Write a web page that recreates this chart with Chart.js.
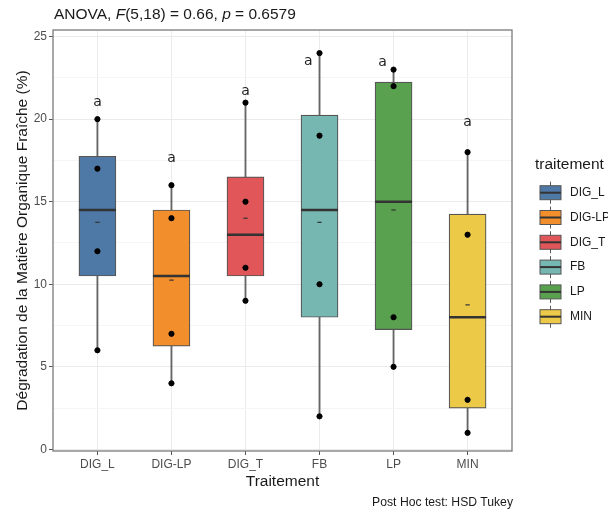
<!DOCTYPE html>
<html>
<head>
<meta charset="utf-8">
<script src="https://cdn.jsdelivr.net/npm/chart.js@4.4.0/dist/chart.umd.min.js"></script>
<style>
  body { margin: 0; background: #fff; font-family: "Liberation Sans", Arial, sans-serif; }
  #wrap { position: relative; width: 608px; height: 513px; }
  #title { position: absolute; left: 54px; top: 5px; font-size: 15.5px; color: #1a1a1a; white-space: nowrap; }
  #caption { position: absolute; right: 95px; top: 495px; font-size: 12.2px; color: #1a1a1a; white-space: nowrap; }
</style>
</head>
<body>
<div id="wrap">
  <canvas id="chart" width="608" height="513"></canvas>
  <div id="title">ANOVA, <i>F</i>(5,18) = 0.66, <i>p</i> = 0.6579</div>
  <div id="caption">Post Hoc test: HSD Tukey</div>
</div>
<script>
// Data
const categories = ['DIG_L', 'DIG-LP', 'DIG_T', 'FB', 'LP', 'MIN'];
const q1 = [10.5, 6.25, 10.5, 8, 7.25, 2.5];
const q3 = [17.75, 14.5, 16.5, 20.25, 22.25, 14.25];
const medians = [14.5, 10.5, 13, 14.5, 15, 8];
const means = [13.75, 10.25, 14, 13.75, 14.5, 8.75];
const whiskerLow = [6, 4, 9, 2, 5, 1];
const whiskerHigh = [20, 16, 21, 24, 23, 18];
const observations = [
    [6, 12, 17, 20],
    [4, 7, 14, 16],
    [9, 11, 15, 21],
    [2, 10, 19, 24],
    [5, 8, 22, 23],
    [1, 3, 13, 18]
];
const letters = ['a', 'a', 'a', 'a', 'a', 'a'];
const letterX = [1, 2, 3, 3.85, 4.85, 6];
const letterY = [21, 17.6, 21.7, 23.5, 23.45, 19.8];
const yTicks = [0, 2.5, 5, 7.5, 10, 12.5, 15, 17.5, 20, 22.5, 25];
const fills = ['#4E79A7', '#F28E2B', '#E15759', '#76B7B2', '#59A14F', '#EDC948'];

const xIdx = categories.map((c, i) => i + 1);

const obsPoints = [];
observations.forEach((vals, i) => vals.forEach(v => obsPoints.push({ x: i + 1, y: v })));

// Panel border, letters and the legend
const extras = {
    id: 'extras',
    afterDatasetsDraw(chart) {
        const { ctx, chartArea, scales } = chart;
        ctx.save();
        ctx.strokeStyle = '#7a7a7a';
        ctx.lineWidth = 1.3;
        ctx.strokeRect(chartArea.left, chartArea.top, chartArea.right - chartArea.left, chartArea.bottom - chartArea.top);

        ctx.fillStyle = '#222';
        ctx.font = '14px "DejaVu Sans", sans-serif';
        ctx.textAlign = 'center';
        ctx.textBaseline = 'middle';
        letters.forEach((l, i) => {
            ctx.fillText(l, scales.x.getPixelForValue(letterX[i]), scales.y.getPixelForValue(letterY[i]));
        });

        // legend
        ctx.textAlign = 'left';
        ctx.font = '15.5px "Liberation Sans", Arial, sans-serif';
        ctx.fillStyle = '#1a1a1a';
        ctx.fillText('traitement', 535, 165);
        ctx.font = '12px "Liberation Sans", Arial, sans-serif';
        categories.forEach((c, i) => {
            const cy = 192.7 + i * 24.8;
            const kx = 540, kw = 21;
            ctx.strokeStyle = '#555';
            ctx.lineWidth = 1;
            ctx.beginPath();
            ctx.moveTo(kx + kw / 2, cy - 11);
            ctx.lineTo(kx + kw / 2, cy + 11);
            ctx.stroke();
            ctx.fillStyle = fills[i];
            ctx.fillRect(kx, cy - 7, kw, 14);
            ctx.strokeRect(kx, cy - 7, kw, 14);
            ctx.strokeStyle = '#333';
            ctx.lineWidth = 2;
            ctx.beginPath();
            ctx.moveTo(kx, cy);
            ctx.lineTo(kx + kw, cy);
            ctx.stroke();
            ctx.fillStyle = '#1a1a1a';
            ctx.fillText(c, 570, cy);
        });
        ctx.restore();
    }
};

new Chart(document.getElementById('chart').getContext('2d'), {
    type: 'bar',
    data: {
        datasets: [
            {
                type: 'scatter',
                data: obsPoints,
                pointRadius: 2.6,
                pointBackgroundColor: '#000',
                pointBorderColor: '#000',
                order: 1
            },
            {
                type: 'scatter',
                data: xIdx.map((x, i) => ({ x: x, y: means[i] })),
                pointStyle: 'line',
                pointRadius: 2.2,
                pointBorderWidth: 1.2,
                pointBorderColor: '#333',
                order: 2
            },
            {
                type: 'scatter',
                data: xIdx.map((x, i) => ({ x: x, y: medians[i] })),
                pointStyle: 'line',
                pointRadius: 18.5,
                pointBorderWidth: 2.6,
                pointBorderColor: '#333',
                order: 3
            },
            {
                type: 'bar',
                data: xIdx.map((x, i) => ({ x: x, y: [q1[i], q3[i]] })),
                backgroundColor: fills,
                borderColor: '#555',
                borderWidth: 1.2,
                borderSkipped: false,
                barThickness: 37,
                grouped: false,
                order: 4
            },
            {
                type: 'bar',
                data: xIdx.map((x, i) => ({ x: x, y: [whiskerLow[i], whiskerHigh[i]] })),
                backgroundColor: '#666',
                borderWidth: 0,
                barThickness: 1.2,
                grouped: false,
                order: 5
            }
        ]
    },
    options: {
        responsive: false,
        animation: false,
        layout: { padding: { left: 0, right: 96, top: 30, bottom: 22 } },
        plugins: { legend: { display: false }, tooltip: { enabled: false } },
        scales: {
            x: {
                type: 'linear',
                min: 0.4,
                max: 6.6,
                offset: false,
                afterBuildTicks: s => { s.ticks = xIdx.map(v => ({ value: v })); },
                afterFit: s => { s.height = 40; },
                ticks: {
                    autoSkip: false,
                    maxRotation: 0,
                    padding: 2,
                    color: '#4d4d4d',
                    font: { family: '"Liberation Sans", Arial, sans-serif', size: 12 },
                    callback: v => categories[v - 1]
                },
                grid: { offset: false, color: '#ebebeb', tickColor: '#555', tickLength: 4 },
                border: { display: false },
                title: {
                    display: true,
                    text: 'Traitement',
                    color: '#1a1a1a',
                    font: { family: '"Liberation Sans", Arial, sans-serif', size: 15.5 },
                    padding: { top: 0, bottom: 0 }
                }
            },
            y: {
                min: -0.1,
                max: 25.4,
                afterBuildTicks: s => { s.ticks = yTicks.map(v => ({ value: v })); },
                afterFit: s => { s.width = 53; },
                ticks: {
                    padding: 2,
                    color: '#4d4d4d',
                    font: { family: '"Liberation Sans", Arial, sans-serif', size: 12 },
                    callback: v => (v % 5 === 0 ? v : '')
                },
                grid: {
                    color: c => (c.tick && c.tick.value % 5 === 0 ? '#ebebeb' : '#f5f5f5'),
                    tickColor: c => (c.tick && c.tick.value % 5 === 0 ? '#555' : 'rgba(0,0,0,0)'),
                    tickLength: 4
                },
                border: { display: false },
                title: {
                    display: true,
                    text: 'Dégradation de la Matière Organique Fraîche (%)',
                    color: '#1a1a1a',
                    font: { family: '"Liberation Sans", Arial, sans-serif', size: 15.5 },
                    padding: { top: 13, bottom: 0 }
                }
            }
        }
    },
    plugins: [extras]
});
</script>
</body>
</html>
